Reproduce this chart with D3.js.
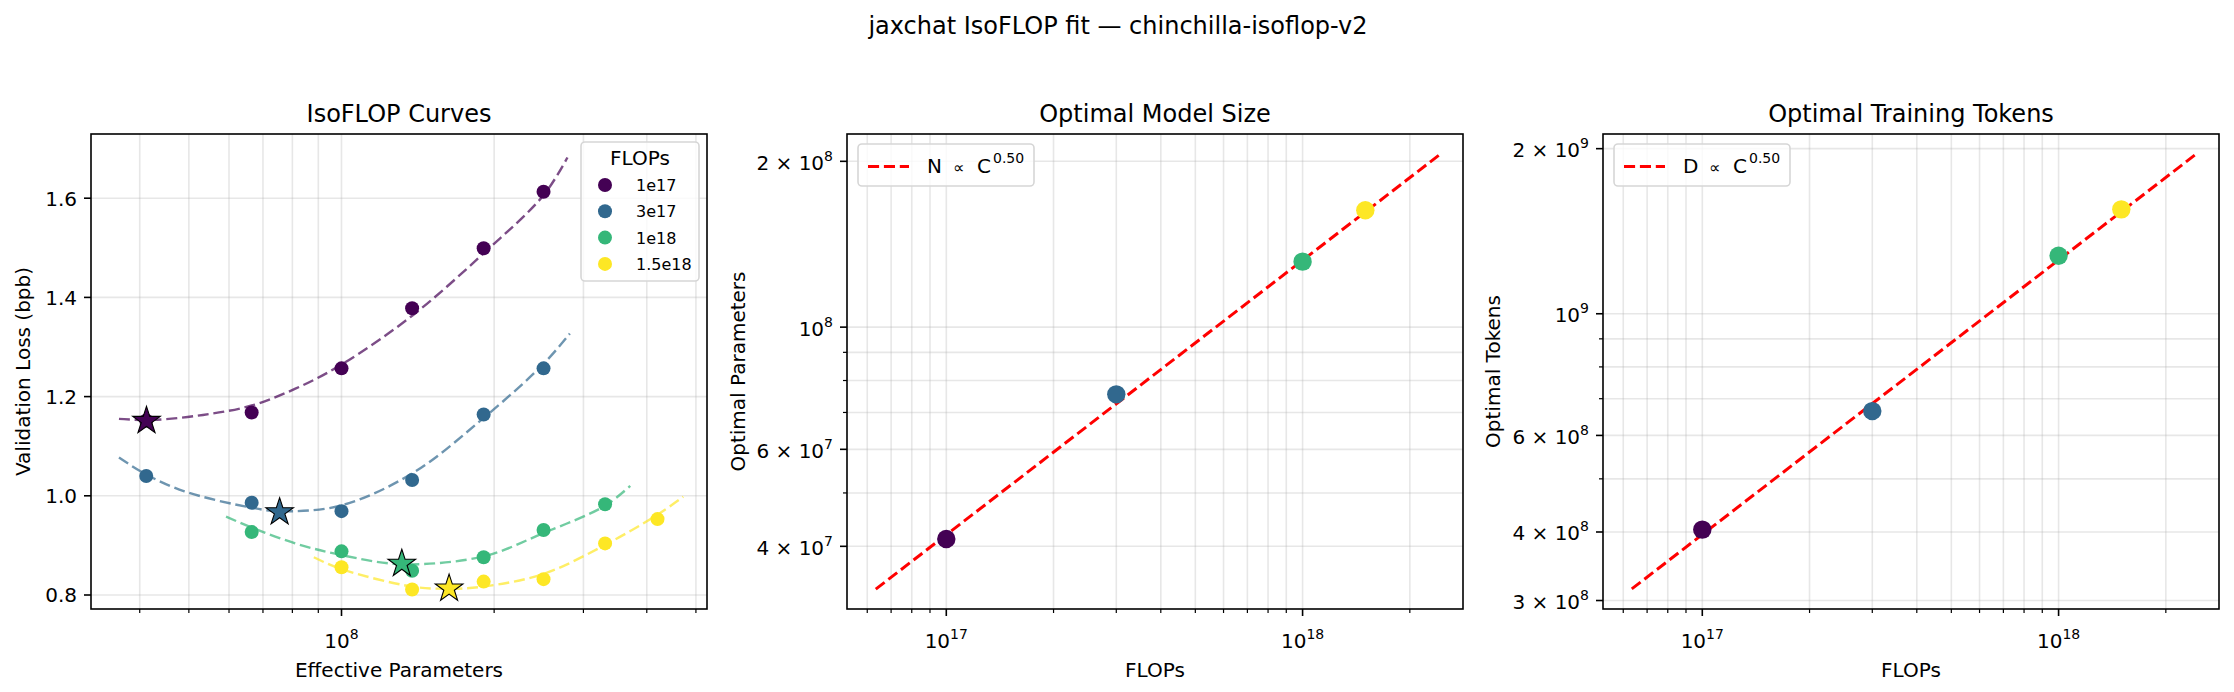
<!DOCTYPE html>
<html><head><meta charset="utf-8">
<script src="https://cdn.jsdelivr.net/npm/d3@7"></script>
<style>
body{margin:0;background:#fff}
svg{display:block}
text{font-family:"DejaVu Sans",sans-serif;fill:#000}
</style>
</head><body>
<svg id="c" width="2234" height="692"></svg>
<script>
// ---------------- data ----------------
const flopBudgets = [1e17, 3e17, 1e18, 1.5e18];
const flopLabels = ["1e17", "3e17", "1e18", "1.5e18"];
const seriesColors = ["#440154", "#31688e", "#35b779", "#fde725"];

// measured runs (effective parameters, validation loss)
const runParams = [
  [4.12e7, 6.65e7, 1.0e8, 1.378e8, 1.907e8, 2.503e8],
  [4.12e7, 6.65e7, 1.0e8, 1.378e8, 1.907e8, 2.503e8],
  [6.65e7, 1.0e8, 1.378e8, 1.907e8, 2.503e8, 3.31e8],
  [1.0e8, 1.378e8, 1.907e8, 2.503e8, 3.31e8, 4.20e8]
];
const runLoss = [
  [1.152, 1.168, 1.257, 1.378, 1.499, 1.613],
  [1.040, 0.986, 0.969, 1.032, 1.164, 1.257],
  [0.927, 0.888, 0.849, 0.876, 0.931, 0.983],
  [0.856, 0.811, 0.827, 0.832, 0.904, 0.953]
];

// fitted isoFLOP curves
const fitParams = [
  [3.64e7, 4.24e7, 5.33e7, 6.65e7, 8.11e7, 9.94e7, 1.378e8, 1.907e8, 2.503e8, 2.79e8],
  [3.64e7, 4.12e7, 4.90e7, 6.65e7, 7.57e7, 9.94e7, 1.378e8, 1.907e8, 2.503e8, 2.82e8],
  [5.92e7, 6.65e7, 8.11e7, 9.94e7, 1.321e8, 1.907e8, 2.503e8, 3.31e8, 3.71e8],
  [8.82e7, 9.94e7, 1.378e8, 1.636e8, 1.907e8, 2.503e8, 3.31e8, 4.20e8, 4.72e8]
];
const fitLoss = [
  [1.155, 1.153, 1.163, 1.182, 1.216, 1.263, 1.363, 1.489, 1.606, 1.682],
  [1.077, 1.043, 1.009, 0.976, 0.969, 0.980, 1.045, 1.157, 1.266, 1.327],
  [0.958, 0.936, 0.904, 0.881, 0.862, 0.878, 0.925, 0.980, 1.020],
  [0.876, 0.853, 0.817, 0.8125, 0.817, 0.8425, 0.901, 0.962, 0.998]
];

// optimum per budget
const optParams = [4.125e7, 7.55e7, 1.315e8, 1.63e8];
const optLoss = [1.151, 0.967, 0.863, 0.813];
const optTokens = [4.04e8, 6.645e8, 1.276e9, 1.55e9];

// power-law fit lines (endpoints)
const fitLineFlops = [6.34e16, 2.41e18];
const fitLineParams = [3.345e7, 2.05e8];
const fitLineTokens = [3.15e8, 1.946e9];
const fitExponentLabel = "0.50";

// ticks
const lossTicks = [0.8, 1.0, 1.2, 1.4, 1.6];
const paramXMajor = [{v: 1e8, e: "8"}];
const paramXMinor = [4e7, 5e7, 6e7, 7e7, 8e7, 9e7, 2e8, 3e8, 4e8, 5e8];
const flopXMajor = [{v: 1e17, e: "17"}, {v: 1e18, e: "18"}];
const flopXMinor = [6e16, 7e16, 8e16, 9e16, 2e17, 3e17, 4e17, 5e17, 6e17, 7e17, 8e17, 9e17, 2e18];
const paramYLabeled = [{v: 4e7, m: "4", e: "7"}, {v: 6e7, m: "6", e: "7"}, {v: 1e8, e: "8"}, {v: 2e8, m: "2", e: "8"}];
const paramYMinor = [5e7, 7e7, 8e7, 9e7];
const tokenYLabeled = [{v: 3e8, m: "3", e: "8"}, {v: 4e8, m: "4", e: "8"}, {v: 6e8, m: "6", e: "8"}, {v: 1e9, e: "9"}, {v: 2e9, m: "2", e: "9"}];
const tokenYMinor = [5e8, 7e8, 8e8, 9e8];

// ---------------- layout ----------------
const svg = d3.select("#c");
const T = 134, B = 609;
const panels = [{l: 91, r: 707}, {l: 847, r: 1463}, {l: 1603, r: 2219}];
const GRID = "#b0b0b0";

function supLabel(g, lab, x, y, anchor) {
  const t = g.append("text").attr("x", x).attr("y", y).attr("text-anchor", anchor).attr("font-size", 20);
  if (lab.m) t.append("tspan").text(lab.m + " \u00d7 ");
  t.append("tspan").text("10");
  t.append("tspan").attr("dy", -9).attr("font-size", 14).text(lab.e);
  return t;
}

function frame(p, x, y, xMajor, xMinor, yMajor, yMinor, yPlain) {
  const g = svg.append("g");
  // grid
  const xs = xMajor.map(d => d.v).concat(xMinor);
  g.selectAll(null).data(xs).join("line")
    .attr("x1", d => x(d)).attr("x2", d => x(d)).attr("y1", T).attr("y2", B)
    .attr("stroke", GRID).attr("stroke-opacity", 0.3).attr("stroke-width", 1.6);
  const ys = yPlain ? yMajor : yMajor.map(d => d.v).concat(yMinor);
  g.selectAll(null).data(ys).join("line")
    .attr("y1", d => y(d)).attr("y2", d => y(d)).attr("x1", p.l).attr("x2", p.r)
    .attr("stroke", GRID).attr("stroke-opacity", 0.3).attr("stroke-width", 1.6);
  return g;
}

function axesOverlay(p, x, y, xMajor, xMinor, yMajor, yMinor, yPlain, xTitle, yTitle, yTitleX, title) {
  const g = svg.append("g");
  g.append("rect").attr("x", p.l).attr("y", T).attr("width", p.r - p.l).attr("height", B - T)
    .attr("fill", "none").attr("stroke", "#000").attr("stroke-width", 1.6);
  // x ticks
  g.selectAll(null).data(xMajor).join("line")
    .attr("x1", d => x(d.v)).attr("x2", d => x(d.v)).attr("y1", B).attr("y2", B + 7)
    .attr("stroke", "#000").attr("stroke-width", 1.6);
  g.selectAll(null).data(xMinor).join("line")
    .attr("x1", d => x(d)).attr("x2", d => x(d)).attr("y1", B).attr("y2", B + 4)
    .attr("stroke", "#000").attr("stroke-width", 1.2);
  xMajor.forEach(d => supLabel(g, d, x(d.v), 647.5, "middle"));
  // y ticks
  const yv = yPlain ? yMajor : yMajor.map(d => d.v);
  g.selectAll(null).data(yv).join("line")
    .attr("y1", d => y(d)).attr("y2", d => y(d)).attr("x1", p.l - 7).attr("x2", p.l)
    .attr("stroke", "#000").attr("stroke-width", 1.6);
  g.selectAll(null).data(yMinor).join("line")
    .attr("y1", d => y(d)).attr("y2", d => y(d)).attr("x1", p.l - 4).attr("x2", p.l)
    .attr("stroke", "#000").attr("stroke-width", 1.2);
  if (yPlain) {
    g.selectAll(null).data(yMajor).join("text")
      .attr("x", p.l - 14).attr("y", d => y(d) + 7.3).attr("text-anchor", "end").attr("font-size", 20)
      .text(d => d.toFixed(1));
  } else {
    yMajor.forEach(d => supLabel(g, d, p.l - 14, y(d.v) + 8.5, "end"));
  }
  g.append("text").attr("x", (p.l + p.r) / 2).attr("y", 677).attr("text-anchor", "middle")
    .attr("font-size", 20).text(xTitle);
  g.append("text").attr("transform", `translate(${yTitleX},${(T + B) / 2}) rotate(-90)`)
    .attr("text-anchor", "middle").attr("font-size", 20).text(yTitle);
  g.append("text").attr("x", (p.l + p.r) / 2).attr("y", 122).attr("text-anchor", "middle")
    .attr("font-size", 24).text(title);
}

// suptitle
svg.append("text").attr("x", 1118).attr("y", 34).attr("text-anchor", "middle")
  .attr("font-size", 24).text("jaxchat IsoFLOP fit \u2014 chinchilla-isoflop-v2");

// ---------------- panel 1: IsoFLOP curves ----------------
{
  const p = panels[0];
  const x = d3.scaleLog().domain([3.206e7, 5.258e8]).range([p.l, p.r]);
  const y = d3.scaleLinear().domain([0.77177, 1.72944]).range([B, T]);
  frame(p, x, y, paramXMajor, paramXMinor, lossTicks, [], true);
  const g = svg.append("g");
  const line = d3.line().curve(d3.curveCatmullRom.alpha(0.5));
  fitParams.forEach((ps, i) => {
    g.append("path").attr("d", line(ps.map((n, j) => [x(n), y(fitLoss[i][j])])))
      .attr("fill", "none").attr("stroke", seriesColors[i]).attr("stroke-opacity", 0.7)
      .attr("stroke-width", 2.4).attr("stroke-dasharray", "11,4.8");
  });
  runParams.forEach((ps, i) => {
    g.selectAll(null).data(ps.map((n, j) => [n, runLoss[i][j]])).join("circle")
      .attr("cx", d => x(d[0])).attr("cy", d => y(d[1])).attr("r", 7).attr("fill", seriesColors[i]);
  });
  const star = d3.symbol().type(d3.symbolStar).size(14.5 * 14.5 / 0.8908130915292852);
  optParams.forEach((n, i) => {
    g.append("path").attr("d", star()).attr("transform", `translate(${x(n)},${y(optLoss[i])})`)
      .attr("fill", seriesColors[i]).attr("stroke", "#000").attr("stroke-width", 1.1);
  });
  axesOverlay(p, x, y, paramXMajor, paramXMinor, lossTicks, [], true,
    "Effective Parameters", "Validation Loss (bpb)", 30, "IsoFLOP Curves");
  // legend
  const lg = svg.append("g");
  lg.append("rect").attr("x", 581).attr("y", 142).attr("width", 118).attr("height", 139).attr("rx", 4)
    .attr("fill", "#fff").attr("fill-opacity", 0.8).attr("stroke", "#d6d6d6").attr("stroke-width", 1.6);
  lg.append("text").attr("x", 640).attr("y", 165).attr("text-anchor", "middle").attr("font-size", 20).text("FLOPs");
  flopLabels.forEach((lab, i) => {
    const cy = 185 + i * 26.3;
    lg.append("circle").attr("cx", 605).attr("cy", cy).attr("r", 7).attr("fill", seriesColors[i]);
    lg.append("text").attr("x", 636).attr("y", cy + 6).attr("font-size", 16).text(lab);
  });
}

// ---------------- panels 2 & 3 ----------------
function scalingPanel(p, yDomain, yVals, lineVals, yLab, yMinor, yTitle, yTitleX, title, sym) {
  const x = d3.scaleLog().domain([5.264e16, 2.82e18]).range([p.l, p.r]);
  const y = d3.scaleLog().domain(yDomain).range([B, T]);
  frame(p, x, y, flopXMajor, flopXMinor, yLab, yMinor, false);
  const g = svg.append("g");
  g.append("path").attr("d", d3.line()(fitLineFlops.map((c, j) => [x(c), y(lineVals[j])])))
    .attr("fill", "none").attr("stroke", "#ff0000").attr("stroke-width", 3).attr("stroke-dasharray", "11.1,4.8");
  g.selectAll(null).data(flopBudgets.map((c, j) => [c, yVals[j], seriesColors[j]])).join("circle")
    .attr("cx", d => x(d[0])).attr("cy", d => y(d[1])).attr("r", 9.2).attr("fill", d => d[2]);
  axesOverlay(p, x, y, flopXMajor, flopXMinor, yLab, yMinor, false, "FLOPs", yTitle, yTitleX, title);
  // legend
  const lx = p.l + 11;
  const lg = svg.append("g");
  lg.append("rect").attr("x", lx).attr("y", 144).attr("width", 176).attr("height", 42).attr("rx", 4)
    .attr("fill", "#fff").attr("fill-opacity", 0.8).attr("stroke", "#d6d6d6").attr("stroke-width", 1.6);
  lg.append("line").attr("x1", lx + 10).attr("x2", lx + 51).attr("y1", 166.5).attr("y2", 166.5)
    .attr("stroke", "#ff0000").attr("stroke-width", 3).attr("stroke-dasharray", "11.1,4.8");
  const t = lg.append("text").attr("font-size", 20).attr("y", 173);
  t.append("tspan").attr("x", lx + 69).text(sym);
  t.append("tspan").attr("x", lx + 95).attr("font-size", 16).text("\u221d");
  t.append("tspan").attr("x", lx + 119).attr("font-size", 20).text("C");
  t.append("tspan").attr("x", lx + 135).attr("dy", -10).attr("font-size", 14).text(fitExponentLabel);
}

scalingPanel(panels[1], [3.078e7, 2.242e8], optParams, fitLineParams, paramYLabeled, paramYMinor,
  "Optimal Parameters", 745, "Optimal Model Size", "N");
scalingPanel(panels[2], [2.895e8, 2.127e9], optTokens, fitLineTokens, tokenYLabeled, tokenYMinor,
  "Optimal Tokens", 1500, "Optimal Training Tokens", "D");
</script>
</body></html>
